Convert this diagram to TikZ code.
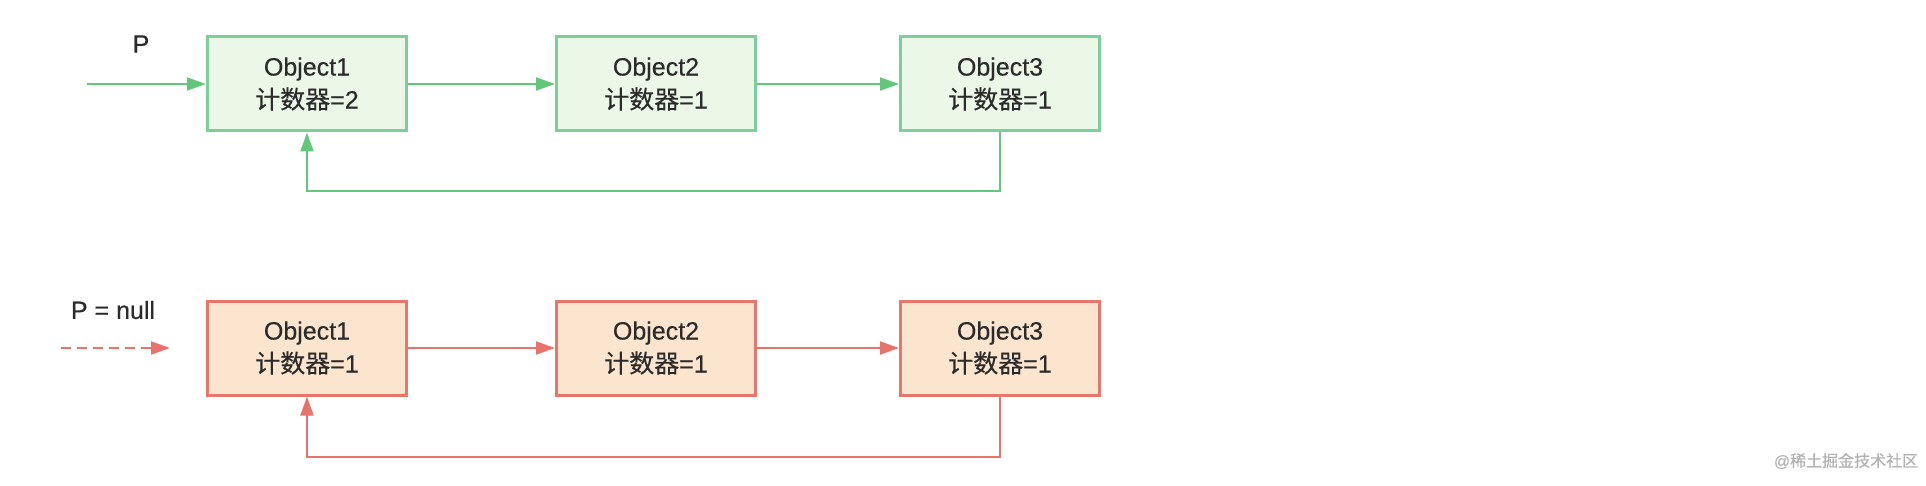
\documentclass[tikz,border=0pt]{standalone}
\usepackage{fontspec}
\setmainfont{Liberation Sans}[FakeBold=0.4]
\newfontfamily\cjk{Noto Sans CJK SC}[FakeBold=0.4]
\usetikzlibrary{arrows.meta,positioning}
\definecolor{txt}{HTML}{2B2B2B}
\definecolor{gline}{HTML}{7CCF98}
\definecolor{gfill}{HTML}{EBF8E8}
\definecolor{garrow}{HTML}{62C77B}
\definecolor{rline}{HTML}{E8766A}
\definecolor{rfill}{HTML}{FBE5CE}
\definecolor{rarrow}{HTML}{E8736C}
\begin{document}
\begin{tikzpicture}[x=0.5pt,y=-0.5pt,
every node/.style={font=\fontsize{12.5}{16.5}\selectfont,text=txt},
objbox/.style={line width=1.5pt,minimum width=99.5pt,minimum height=47pt,align=center,inner sep=0pt},
gbox/.style={objbox,draw=gline,fill=gfill},
rbox/.style={objbox,draw=rline,fill=rfill},
garr/.style={draw=garrow,line width=1pt,-{Triangle[length=9.5pt,width=6.5pt]}},
rarr/.style={draw=rarrow,line width=1pt,-{Triangle[length=9.5pt,width=6.5pt]}}]
\useasboundingbox (0,0) rectangle (1926,486);
\node (P) at (141,44) {P};
\coordinate (Pin) at (87,84);
\node[gbox] (G1) at (307,84) {Object1\\{\cjk 计数器}=2};
\node[gbox] (G2) at (656,84) {Object2\\{\cjk 计数器}=1};
\node[gbox] (G3) at (1000,84) {Object3\\{\cjk 计数器}=1};
\draw[garr] (Pin)--(G1.west);
\draw[garr] (G1)--(G2);
\draw[garr] (G2)--(G3);
\draw[garr] (G3.south)--++(0,59)-|(G1.south);
\node (Pnull) at (113,310) {P = null};
\coordinate (Rin) at (61,348);
\coordinate (Rend) at (170,348);
\node[rbox] (R1) at (307,348) {Object1\\{\cjk 计数器}=1};
\node[rbox] (R2) at (656,348) {Object2\\{\cjk 计数器}=1};
\node[rbox] (R3) at (1000,348) {Object3\\{\cjk 计数器}=1};
\draw[rarr,dashed,dash pattern=on 5pt off 3pt] (Rin)--(Rend);
\draw[rarr] (R1)--(R2);
\draw[rarr] (R2)--(R3);
\draw[rarr] (R3.south)--++(0,60)-|(R1.south);
\node[font=\fontsize{8}{8}\selectfont,text=gray!60] (WM) at (1846,461) {@{\cjk 稀土掘金技术社区}};
\end{tikzpicture}
\end{document}
